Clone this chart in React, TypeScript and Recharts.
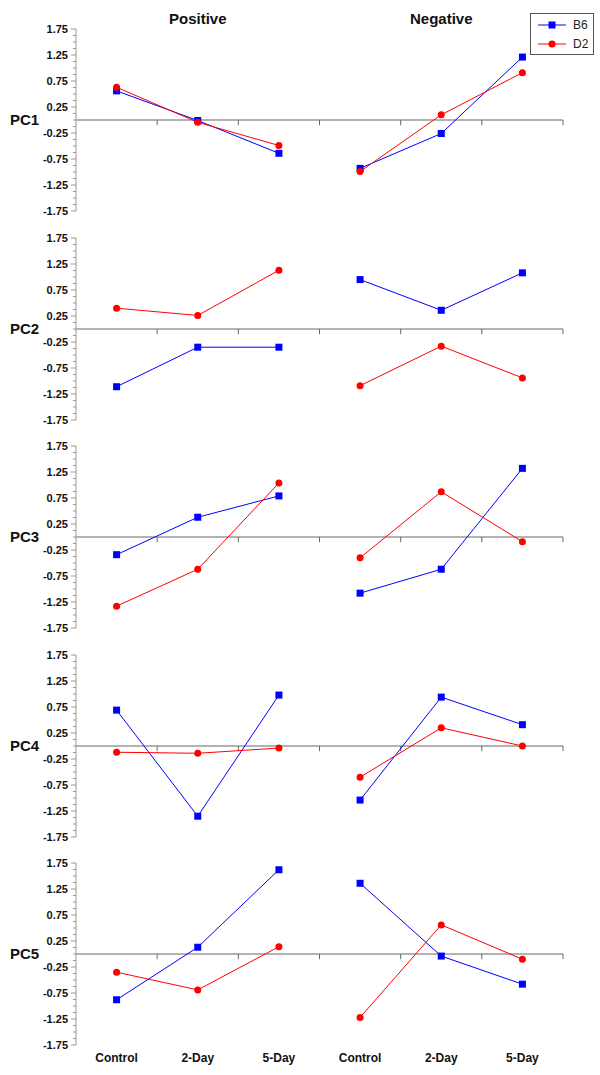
import { LineChart, Line, XAxis, YAxis, ReferenceLine, Legend } from 'recharts';

const components = ['PC1', 'PC2', 'PC3', 'PC4', 'PC5'];
const groups = ['Positive', 'Negative'];
const timepoints = ['Control', '2-Day', '5-Day'];
const yTicks = [-1.75, -1.25, -0.75, -0.25, 0.25, 0.75, 1.25, 1.75];

// one row per PC: Control, 2-Day, 5-Day
const b6Positive = [
    [0.56, -0.01, -0.64],
    [-1.11, -0.35, -0.35],
    [-0.34, 0.38, 0.79],
    [0.69, -1.35, 0.98],
    [-0.88, 0.13, 1.62],
];
const d2Positive = [
    [0.63, -0.045, -0.49],
    [0.4, 0.26, 1.13],
    [-1.33, -0.62, 1.04],
    [-0.12, -0.14, -0.04],
    [-0.35, -0.69, 0.14],
];
const b6Negative = [
    [-0.93, -0.26, 1.21],
    [0.95, 0.36, 1.08],
    [-1.08, -0.62, 1.32],
    [-1.04, 0.94, 0.41],
    [1.36, -0.04, -0.58],
];
const d2Negative = [
    [-0.99, 0.1, 0.91],
    [-1.09, -0.33, -0.94],
    [-0.4, 0.87, -0.09],
    [-0.6, 0.35, 0.0],
    [-1.22, 0.56, -0.1],
];

const BLUE = '#0000ff';
const RED = '#ff0000';
const FONT = '"Liberation Sans", Arial, Helvetica, sans-serif';
const PLOT_LEFT = 76;
const PLOT_RIGHT = 563;
const PLOT_H = 182;
const FIRST_TOP = 29;
const ROW_STEP = 208.5;

const bandCount = groups.length * timepoints.length;
const minorTicks = Array.from({ length: 29 }, (_, i) => -1.75 + i * 0.125);
const xLabels = groups.flatMap(() => timepoints);

function buildRow(p: number) {
    const pos = timepoints.map((t, i) => ({
        x: i + 0.5,
        b6Pos: b6Positive[p][i],
        d2Pos: d2Positive[p][i],
        b6Neg: null,
        d2Neg: null,
    }));
    const neg = timepoints.map((t, i) => ({
        x: timepoints.length + i + 0.5,
        b6Pos: null,
        d2Pos: null,
        b6Neg: b6Negative[p][i],
        d2Neg: d2Negative[p][i],
    }));
    return [...pos, ...neg];
}

function YTick(props: any) {
    const { y, payload } = props;
    const major = yTicks.some((t) => Math.abs(t - payload.value) < 1e-6);
    return (
        <g>
            <line x1={PLOT_LEFT - (major ? 5 : 3)} x2={PLOT_LEFT} y1={y} y2={y} stroke="#999" />
            {major && (
                <text x={PLOT_LEFT - 8} y={y} dy={4} textAnchor="end" fontSize={11} fontWeight="bold" fill="#111" fontFamily={FONT}>
                    {payload.value.toFixed(2)}
                </text>
            )}
        </g>
    );
}

function SquareDot(props: any) {
    const { cx, cy, value, index } = props;
    if (value == null || cy == null || isNaN(cy)) return <g key={`sq-${index}`} />;
    return <rect key={`sq-${index}`} x={cx - 3.5} y={cy - 3.5} width={7} height={7} fill={BLUE} />;
}

function LegendBox(props: any) {
    // only the series that carry a legend entry, once each
    const payload = (props.payload || []).filter(
        (entry: any, i: number, all: any[]) =>
            entry.type !== 'none' && all.findIndex((e: any) => e.value === entry.value) === i,
    );
    return (
        <div style={{ border: '1px solid #555', background: '#fff', padding: '1px 0 1px 7px', fontFamily: FONT, fontSize: 12, color: '#222' }}>
            {payload.map((entry: any) => (
                <div key={entry.value} style={{ display: 'flex', alignItems: 'center', height: 19 }}>
                    <svg width={28} height={10}>
                        <line x1={0} x2={28} y1={5} y2={5} stroke={entry.color} />
                        {entry.value === 'B6' ? (
                            <rect x={10.5} y={1.5} width={7} height={7} fill={entry.color} />
                        ) : (
                            <circle cx={14} cy={5} r={3.5} fill={entry.color} />
                        )}
                    </svg>
                    <span style={{ marginLeft: 7 }}>{entry.value}</span>
                </div>
            ))}
        </div>
    );
}

function PcRow({ p }: { p: number }) {
    const first = p === 0;
    const last = p === components.length - 1;
    const marginTop = first ? FIRST_TOP : 10;
    const marginBottom = last ? 0 : 10;
    const axisH = last ? 30 : 0;
    const height = marginTop + PLOT_H + marginBottom + axisH;
    const top = FIRST_TOP + p * ROW_STEP - marginTop;
    const boundaries = Array.from({ length: bandCount }, (_, i) => i + 1);

    return (
        <div style={{ position: 'absolute', left: 0, top, width: 600, height }}>
            <LineChart
                width={600}
                height={height}
                data={buildRow(p)}
                margin={{ top: marginTop, right: 600 - PLOT_RIGHT, bottom: marginBottom, left: 0 }}
            >
                <XAxis
                    type="number"
                    dataKey="x"
                    domain={[0, bandCount]}
                    ticks={xLabels.map((_, i) => i + 0.5)}
                    tickFormatter={(v: number) => xLabels[Math.floor(v)]}
                    hide={!last}
                    height={axisH}
                    axisLine={false}
                    tickLine={false}
                    interval={0}
                    tick={{ fontSize: 12, fontWeight: 'bold', fill: '#111', fontFamily: FONT }}
                />
                <YAxis
                    type="number"
                    domain={[-1.75, 1.75]}
                    ticks={minorTicks}
                    interval={0}
                    width={PLOT_LEFT}
                    tickLine={false}
                    axisLine={{ stroke: '#999' }}
                    tick={<YTick />}
                    allowDataOverflow
                />
                <ReferenceLine y={0} stroke="#666" />
                {boundaries.map((b) => (
                    <ReferenceLine
                        key={b}
                        segment={[{ x: b, y: 0 }, { x: b, y: -0.1 }]}
                        stroke="#666"
                    />
                ))}
                <Line dataKey="b6Pos" name="B6" stroke={BLUE} strokeWidth={1} dot={SquareDot} activeDot={false} isAnimationActive={false} />
                <Line dataKey="b6Neg" name="B6" legendType="none" stroke={BLUE} strokeWidth={1} dot={SquareDot} activeDot={false} isAnimationActive={false} />
                <Line dataKey="d2Pos" name="D2" stroke={RED} strokeWidth={1} dot={{ r: 3.5, fill: RED, stroke: RED, strokeWidth: 0 }} activeDot={false} isAnimationActive={false} />
                <Line dataKey="d2Neg" name="D2" legendType="none" stroke={RED} strokeWidth={1} dot={{ r: 3.5, fill: RED, stroke: RED, strokeWidth: 0 }} activeDot={false} isAnimationActive={false} />
                {first && (
                    <Legend
                        layout="vertical"
                        align="center"
                        verticalAlign="middle"
                        content={<LegendBox />}
                        wrapperStyle={{ top: 13, left: 530, width: 64 }}
                    />
                )}
            </LineChart>
            <div
                style={{
                    position: 'absolute',
                    left: 10,
                    top: marginTop + PLOT_H / 2 - 9,
                    fontFamily: FONT,
                    fontSize: 15,
                    fontWeight: 'bold',
                    lineHeight: '18px',
                    color: '#111',
                }}
            >
                {components[p]}
            </div>
        </div>
    );
}

export default function App() {
    const groupW = (PLOT_RIGHT - PLOT_LEFT) / groups.length;
    return (
        <div style={{ position: 'absolute', left: 0, top: 0, width: 600, height: 1075, background: '#fff' }}>
            {groups.map((g, i) => (
                <div
                    key={g}
                    style={{
                        position: 'absolute',
                        left: PLOT_LEFT + i * groupW,
                        width: groupW,
                        top: 10,
                        textAlign: 'center',
                        fontFamily: FONT,
                        fontSize: 15,
                        fontWeight: 'bold',
                        lineHeight: '18px',
                        color: '#111',
                    }}
                >
                    {g}
                </div>
            ))}
            {components.map((c, p) => (
                <PcRow key={c} p={p} />
            ))}
        </div>
    );
}
